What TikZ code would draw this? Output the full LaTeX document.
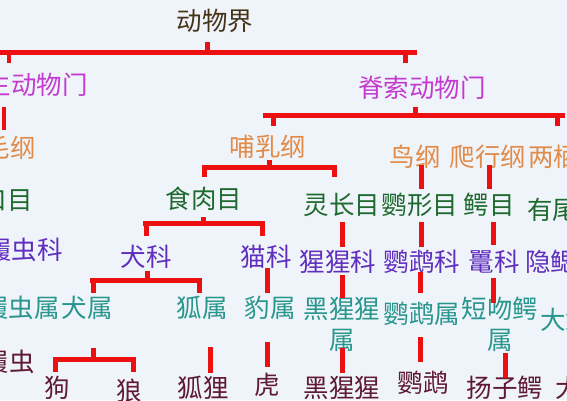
\documentclass[tikz,border=0pt]{standalone}
\usepackage{fontspec}
\newfontfamily\cjk{Noto Sans CJK SC}
\definecolor{bgc}{RGB}{239,244,250}
\definecolor{kcol}{RGB}{70,52,24}
\definecolor{pcol}{RGB}{196,58,208}
\definecolor{ccol}{RGB}{226,138,70}
\definecolor{ocol}{RGB}{30,105,45}
\definecolor{fcol}{RGB}{96,46,190}
\definecolor{gcol}{RGB}{40,150,140}
\definecolor{scol}{RGB}{95,25,50}
\definecolor{rcol}{RGB}{236,16,16}
\begin{document}
\begin{tikzpicture}[x=0.02cm,y=-0.02cm,
  t/.style={inner sep=0pt, font=\cjk\fontsize{14.5}{17.6}\selectfont, align=center},
  kt/.style={t, text=kcol},
  pt/.style={t, text=pcol},
  ct/.style={t, text=ccol},
  ot/.style={t, text=ocol},
  ft/.style={t, text=fcol},
  gt/.style={t, text=gcol},
  st/.style={t, text=scol},
  rl/.style={draw=rcol, line width=0.1cm}]
\useasboundingbox (0,0) rectangle (567,400);
\fill[bgc] (0,0) rectangle (567,400);
\begin{scope}
\clip (0,0) rectangle (567,400);
% kingdom
\node[kt] (k) at (215,21) {动物界};
% phyla
\node[pt, anchor=east] (p1) at (88,85) {生动物门};
\node[pt] (p2) at (422,88) {脊索动物门};
% classes
\node[ct, anchor=east] (c1) at (36,148) {纤毛纲};
\node[ct] (c2) at (268,147) {哺乳纲};
\node[ct] (c3) at (415,157) {鸟纲};
\node[ct] (c4) at (488,157) {爬行纲};
\node[ct, anchor=west] (c5) at (528,157) {两栖纲};
% orders
\node[ot, anchor=east] (o1) at (33,200) {膜口目};
\node[ot] (o2) at (204,199) {食肉目};
\node[ot] (o3) at (342,205) {灵长目};
\node[ot] (o4) at (420,205) {鹦形目};
\node[ot] (o5) at (489,205) {鳄目};
\node[ot, anchor=west] (o6) at (527,210) {有尾目};
% families
\node[ft, anchor=east] (f1) at (63,250) {草履虫科};
\node[ft] (f2) at (146,257) {犬科};
\node[ft] (f3) at (266,257) {猫科};
\node[ft] (f4) at (338,262) {猩猩科};
\node[ft] (f5) at (422,262) {鹦鹉科};
\node[ft] (f6) at (494,262) {鼍科};
\node[ft, anchor=west] (f7) at (525,262) {隐鳃鲵科};
% genera
\node[gt, anchor=east] (g1) at (60,308) {草履虫属};
\node[gt] (g2) at (87,308) {犬属};
\node[gt] (g3) at (202,308) {狐属};
\node[gt] (g4) at (270,308) {豹属};
\node[gt] (g5) at (342,324.5) {黑猩猩\\属};
\node[gt] (g6) at (422,314) {鹦鹉属};
\node[gt] (g7) at (500,324.5) {短吻鳄\\属};
\node[gt, anchor=west] (g8) at (540,320) {大鲵属};
% species
\node[st, anchor=east] (s1) at (35,362) {草履虫};
\node[st] (s2) at (57,388) {狗};
\node[st] (s3) at (129,391) {狼};
\node[st] (s4) at (203,388) {狐狸};
\node[st] (s5) at (267,385) {虎};
\node[st] (s6) at (342,388) {黑猩猩};
\node[st] (s7) at (423,383) {鹦鹉};
\node[st] (s8) at (505,388) {扬子鳄};
\node[st, anchor=west] (s9) at (555,388) {大鲵};
% bar 1 (kingdom)
\draw[rl] (-5,52) -- (417,52);
\draw[rl] (207,42) -- (207,52);
\draw[rl] (9,52) -- (9,63);
\draw[rl] (405,52) -- (405,63);
% left phylum stub
\draw[rl] (4,107) -- (4,130);
% bar 2 (chordata)
\draw[rl] (263,115) -- (565,115);
\draw[rl] (415,107) -- (415,115);
\draw[rl] (273,115) -- (273,126);
\draw[rl] (557,115) -- (557,126);
% birds / reptiles
\draw[rl] (421,165) -- (421,189);
\draw[rl] (489,165) -- (489,189);
% bar 3 (mammals)
\draw[rl] (202,167) -- (337,167);
\draw[rl] (269,160) -- (269,167);
\draw[rl] (204,167) -- (204,177);
\draw[rl] (334,167) -- (334,177);
% order -> family
\draw[rl] (342,222) -- (342,247);
\draw[rl] (421,222) -- (421,247);
\draw[rl] (493,222) -- (493,245);
% bar 4 (carnivora)
\draw[rl] (143,223) -- (265,223);
\draw[rl] (203,217) -- (203,223);
\draw[rl] (146,223) -- (146,236);
\draw[rl] (262,223) -- (262,236);
% bar 5 (canidae)
\draw[rl] (90,280) -- (202,280);
\draw[rl] (147,271) -- (147,280);
\draw[rl] (93,280) -- (93,293);
\draw[rl] (199,280) -- (199,293);
% family -> genus
\draw[rl] (267,268) -- (267,293);
\draw[rl] (342,275) -- (342,298);
\draw[rl] (420,272) -- (420,293);
\draw[rl] (493,278) -- (493,303);
% bar 6 (canis)
\draw[rl] (53,359) -- (136,359);
\draw[rl] (93,348) -- (93,359);
\draw[rl] (55,359) -- (55,372);
\draw[rl] (133,359) -- (133,372);
% genus -> species
\draw[rl] (210,347) -- (210,373);
\draw[rl] (267,342) -- (267,367);
\draw[rl] (342,348) -- (342,373);
\draw[rl] (420,337) -- (420,362);
\draw[rl] (505,353) -- (505,378);
\end{scope}
\end{tikzpicture}
\end{document}
